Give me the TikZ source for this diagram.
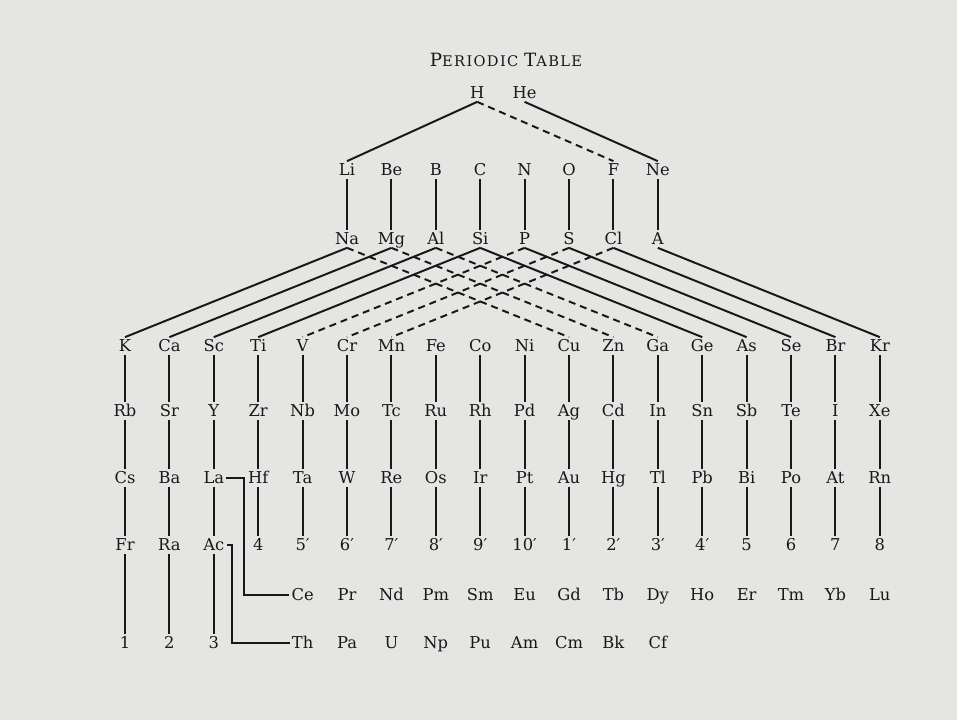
\documentclass[tikz,border=0pt]{standalone}
\usepackage{fontspec}
\setmainfont{DejaVu Serif}
\usepackage{tikz}
\usetikzlibrary{calc}

\definecolor{paper}{RGB}{229,229,227}
\definecolor{ink}{RGB}{24,24,24}

\newcommand{\bigsc}{\fontsize{13}{15}\selectfont}
\newcommand{\smallsc}{\fontsize{10.4}{15}\selectfont}

\tikzset{
	elem/.style={font=\fontsize{11.6}{14}\selectfont, text=ink, inner sep=1.5pt, text height=8.6pt, text depth=0.6pt},
	link/.style={line width=1.4pt, draw=ink},
	dashlink/.style={link, dash pattern=on 5pt off 3.5pt}
}

\begin{document}
\begin{tikzpicture}[x=0.025cm, y=-0.025cm]
	\newcommand{\colX}[1]{125+44.4*(#1-1)}

	% paper
	\fill[paper] (0,0) rectangle (957,720);
	\useasboundingbox (0,0) rectangle (957,720);

	\node[text=ink, font=\addfontfeature{LetterSpace=9}] (title) at (506,60) {\bigsc P\smallsc ERIODIC \bigsc T\smallsc ABLE};

	% first three rows
	\node[elem] (H) at ({\colX{9}-3}, 93) {H};
	\node[elem] (He) at ({\colX{10}}, 93) {He};
	\foreach \sym [count=\i from 6] in {Li,Be,B,C,N,O,F,Ne}
		\node[elem] (r2c\i) at ({\colX{\i}}, 170) {\sym};
	\foreach \sym [count=\i from 6] in {Na,Mg,Al,Si,P,S,Cl,A}
		\node[elem] (r3c\i) at ({\colX{\i}}, 239) {\sym};

	% long rows
	\foreach \sym [count=\i] in {K,Ca,Sc,Ti,V,Cr,Mn,Fe,Co,Ni,Cu,Zn,Ga,Ge,As,Se,Br,Kr}
		\node[elem] (r4c\i) at ({\colX{\i}}, 346) {\sym};
	\foreach \sym [count=\i] in {Rb,Sr,Y,Zr,Nb,Mo,Tc,Ru,Rh,Pd,Ag,Cd,In,Sn,Sb,Te,I,Xe}
		\node[elem] (r5c\i) at ({\colX{\i}}, 411) {\sym};
	\foreach \sym [count=\i] in {Cs,Ba,La,Hf,Ta,W,Re,Os,Ir,Pt,Au,Hg,Tl,Pb,Bi,Po,At,Rn}
		\node[elem] (r6c\i) at ({\colX{\i}}, 478) {\sym};
	\foreach \sym [count=\i] in {Fr,Ra,Ac,4,5′,6′,7′,8′,9′,10′,1′,2′,3′,4′,5,6,7,8}
		\node[elem] (r7c\i) at ({\colX{\i}}, 545) {\sym};

	% rare earths
	\foreach \sym [count=\i from 5] in {Ce,Pr,Nd,Pm,Sm,Eu,Gd,Tb,Dy,Ho,Er,Tm,Yb,Lu}
		\node[elem] (r8c\i) at ({\colX{\i}}, 595) {\sym};
	\foreach \sym [count=\i] in {1,2,3}
		\node[elem] (r9c\i) at ({\colX{\i}}, 643) {\sym};
	\foreach \sym [count=\i from 5] in {Th,Pa,U,Np,Pu,Am,Cm,Bk,Cf}
		\node[elem] (r9c\i) at ({\colX{\i}}, 643) {\sym};

	% lines from H and He
	\draw[link] (H.south) -- (r2c6.north);
	\draw[dashlink] (H.south) -- (r2c12.north);
	\draw[link] (He.south) -- (r2c13.north);

	% straight down
	\foreach \i in {6,...,13}
		\draw[link] (r2c\i.south) -- (r3c\i.north);
	\foreach \r in {4,5,6}{
		\pgfmathtruncatemacro{\s}{\r+1}
		\foreach \i in {1,...,18}
			\draw[link] (r\r c\i.south) -- (r\s c\i.north);
	}
	\foreach \i in {1,2,3}
		\draw[link] (r7c\i.south) -- (r9c\i.north);

	% row 3 to row 4
	\foreach \i in {6,...,9}{
		\pgfmathtruncatemacro{\j}{\i-5}
		\draw[link] (r3c\i.south) -- (r4c\j.north);
	}
	\foreach \i in {10,11,12}{
		\pgfmathtruncatemacro{\j}{\i-5}
		\draw[dashlink] (r3c\i.south) -- (r4c\j.north);
	}
	\foreach \i in {6,7,8}{
		\pgfmathtruncatemacro{\j}{\i+5}
		\draw[dashlink] (r3c\i.south) -- (r4c\j.north);
	}
	\foreach \i in {9,...,13}{
		\pgfmathtruncatemacro{\j}{\i+5}
		\draw[link] (r3c\i.south) -- (r4c\j.north);
	}

	% La and Ac brackets
	\draw[link] (r6c3.east) -- ++(18,0) |- (r8c5.west);
	\draw[link] (r7c3.east) -- ++(5,0) |- (r9c5.west);
\end{tikzpicture}
\end{document}
